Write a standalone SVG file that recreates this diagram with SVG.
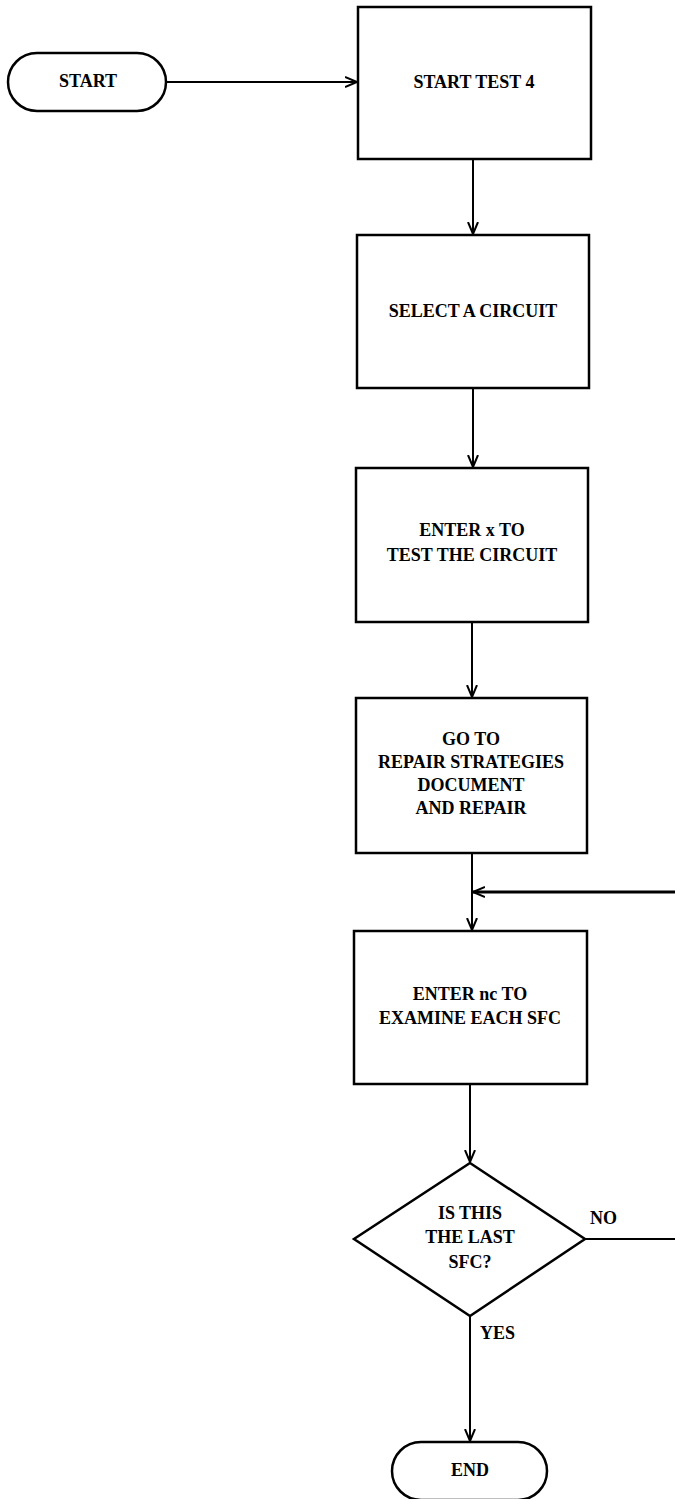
<svg xmlns="http://www.w3.org/2000/svg" width="675" height="1499" viewBox="0 0 675 1499">
<style>
  .shape { fill: #ffffff; stroke: #000000; stroke-width: 2.5; }
  .conn { fill: none; stroke: #000000; stroke-width: 2; }
  .thick { stroke-width: 3; }
  .t { font-family: "Liberation Serif", "Times New Roman", serif; font-weight: bold; font-size: 18px; fill: #000000; text-anchor: middle; }
  .lbl { font-family: "Liberation Serif", "Times New Roman", serif; font-weight: bold; font-size: 18px; fill: #000000; text-anchor: start; }
</style>
<defs>
  <marker id="arrow" markerWidth="14" markerHeight="12" refX="12" refY="6" orient="auto" markerUnits="userSpaceOnUse">
    <path d="M0,1 L12,6 L0,11" fill="none" stroke="#000000" stroke-width="2"/>
  </marker>
</defs>
<rect width="675" height="1499" fill="#ffffff"/>

<g id="connectors">
  <line class="conn" x1="166" y1="82" x2="357" y2="82" marker-end="url(#arrow)"/>
  <line class="conn" x1="473" y1="159" x2="473" y2="234" marker-end="url(#arrow)"/>
  <line class="conn" x1="473" y1="388" x2="473" y2="467" marker-end="url(#arrow)"/>
  <line class="conn" x1="472" y1="622" x2="472" y2="697" marker-end="url(#arrow)"/>
  <line class="conn" x1="472" y1="853" x2="472" y2="930" marker-end="url(#arrow)"/>
  <line class="conn thick" x1="675" y1="892" x2="473" y2="892" marker-end="url(#arrow)"/>
  <line class="conn" x1="470" y1="1084" x2="470" y2="1162" marker-end="url(#arrow)"/>
  <line class="conn" x1="470" y1="1316" x2="470" y2="1441" marker-end="url(#arrow)"/>
  <line class="conn" x1="585" y1="1239" x2="675" y2="1239"/>
  <text class="lbl" x="590" y="1224">NO</text>
  <text class="lbl" x="480" y="1339">YES</text>
</g>

<g id="start">
  <rect class="shape" x="8" y="53" width="158" height="58" rx="29" ry="29"/>
  <text class="t" x="88" y="87">START</text>
</g>

<g id="start-test-4">
  <rect class="shape" x="358" y="7" width="233" height="152"/>
  <text class="t" x="474" y="88">START TEST 4</text>
</g>

<g id="select-circuit">
  <rect class="shape" x="357" y="235" width="232" height="153"/>
  <text class="t" x="473" y="317">SELECT A CIRCUIT</text>
</g>

<g id="enter-x">
  <rect class="shape" x="356" y="468" width="232" height="154"/>
  <text class="t" x="472" y="536">ENTER x TO</text>
  <text class="t" x="472" y="561">TEST THE CIRCUIT</text>
</g>

<g id="repair">
  <rect class="shape" x="356" y="698" width="231" height="155"/>
  <text class="t" x="471" y="745">GO TO</text>
  <text class="t" x="471" y="768">REPAIR STRATEGIES</text>
  <text class="t" x="471" y="791">DOCUMENT</text>
  <text class="t" x="471" y="814">AND REPAIR</text>
</g>

<g id="enter-nc">
  <rect class="shape" x="354" y="931" width="233" height="153"/>
  <text class="t" x="470" y="1000">ENTER nc TO</text>
  <text class="t" x="470" y="1024">EXAMINE EACH SFC</text>
</g>

<g id="decision">
  <polygon class="shape" points="470,1163 585,1239 470,1316 354,1239"/>
  <text class="t" x="470" y="1219">IS THIS</text>
  <text class="t" x="470" y="1243">THE LAST</text>
  <text class="t" x="470" y="1268">SFC?</text>
</g>

<g id="end">
  <rect class="shape" x="392" y="1442" width="155" height="58" rx="29" ry="29"/>
  <text class="t" x="470" y="1476">END</text>
</g>
</svg>
